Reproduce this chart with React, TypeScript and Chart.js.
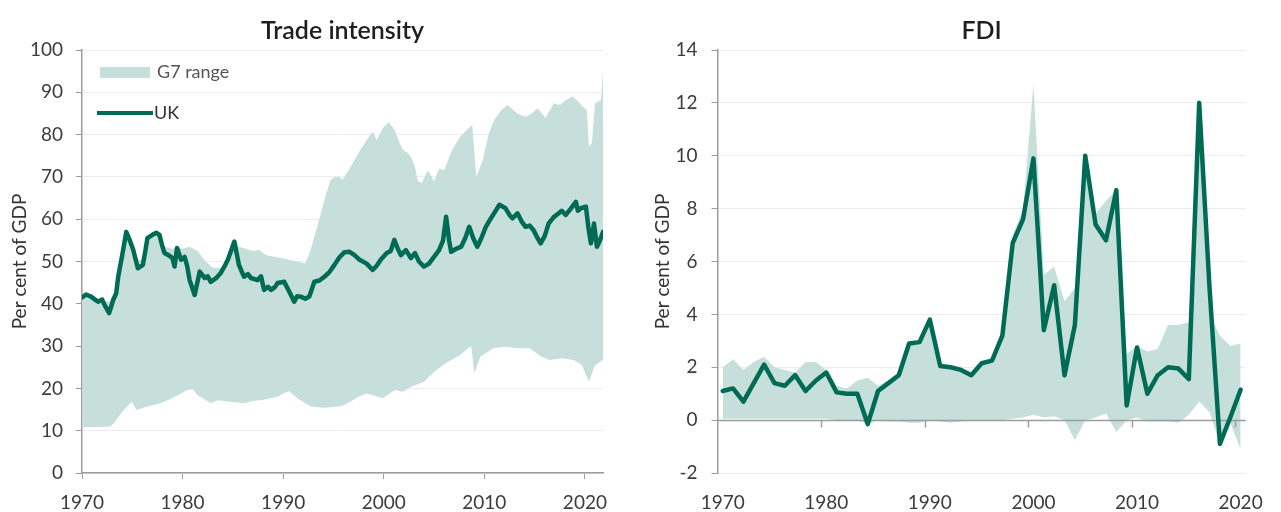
import React, { useEffect, useRef } from "react";
import { Chart, registerables } from "chart.js";

Chart.register(...registerables);

// ---------- Trade intensity (left panel) ----------
const tradeXTicks = [1970, 1980, 1990, 2000, 2010, 2020];
const tradeYTicks = [0, 10, 20, 30, 40, 50, 60, 70, 80, 90, 100];
const tradeLegendLabels = ["G7 range", "UK"];

const ukTradeYears = [
  1970.0, 1970.4, 1970.9, 1971.3, 1971.6, 1972.0, 1972.25, 1972.7, 1973.1, 1973.4,
  1973.6, 1974.0, 1974.4, 1974.75, 1975.1, 1975.55, 1976.05, 1976.3, 1976.5, 1977.0,
  1977.4, 1977.7, 1978.0, 1978.2, 1978.6, 1979.0, 1979.2, 1979.45, 1979.85, 1980.2,
  1980.45, 1980.7, 1981.2, 1981.7, 1982.2, 1982.5, 1982.8, 1983.3, 1983.8, 1984.2,
  1984.5, 1985.15, 1985.6, 1986.1, 1986.5, 1986.8, 1987.45, 1987.8, 1988.1, 1988.5,
  1988.8, 1989.2, 1989.45, 1990.1, 1990.6, 1991.1, 1991.4, 1991.75, 1992.2, 1992.6,
  1993.1, 1993.6, 1994.1, 1994.6, 1995.1, 1995.6, 1996.1, 1996.6, 1997.1, 1997.6,
  1998.3, 1998.9, 1999.3, 1999.7, 2000.3, 2000.7, 2001.05, 2001.4, 2001.7, 2002.2,
  2002.7, 2003.1, 2003.5, 2004.0, 2004.5, 2005.0, 2005.5, 2005.9, 2006.2, 2006.5,
  2006.7, 2007.2, 2007.7, 2008.1, 2008.5, 2008.9, 2009.3, 2009.7, 2010.15, 2010.6,
  2011.0, 2011.5, 2012.1, 2012.5, 2012.8, 2013.3, 2013.7, 2014.1, 2014.5, 2014.9,
  2015.3, 2015.6, 2016.0, 2016.4, 2016.9, 2017.4, 2017.7, 2018.1, 2018.6, 2019.1,
  2019.3, 2019.6, 2020.1, 2020.35, 2020.6, 2020.75, 2020.9, 2021.2, 2021.5, 2021.8,
];
const ukTradeValues = [
  41.5, 42.2, 41.7, 41.0, 40.5, 41.0, 39.7, 37.8, 40.9, 42.5,
  46.4, 51.5, 57.0, 55.0, 52.7, 48.4, 49.2, 52.5, 55.5, 56.3,
  56.8, 56.3, 53.5, 52.0, 51.5, 50.8, 48.8, 53.2, 50.4, 51.1,
  49.0, 45.6, 42.1, 47.6, 46.1, 46.5, 45.2, 46.0, 47.3, 49.0,
  50.4, 54.7, 49.2, 46.4, 47.0, 46.1, 45.6, 46.5, 43.3, 44.0,
  43.3, 44.0, 44.9, 45.2, 42.9, 40.5, 41.8, 41.7, 41.2, 41.7,
  45.2, 45.5, 46.4, 47.5, 49.2, 51.0, 52.2, 52.3, 51.5, 50.4,
  49.5, 48.0, 49.0, 50.4, 52.0, 52.5, 55.1, 53.0, 51.5, 52.7,
  50.8, 52.0, 50.0, 48.8, 49.5, 51.1, 52.7, 55.0, 60.6, 55.0,
  52.3, 53.0, 53.5, 55.5, 58.2, 55.5, 53.5, 55.5, 58.2, 60.0,
  61.5, 63.4, 62.6, 61.0, 60.2, 61.4, 59.5, 58.2, 58.5, 57.4,
  55.5, 54.3, 56.0, 59.0, 60.5, 61.4, 62.0, 61.0, 62.5, 64.1,
  62.0, 62.6, 63.0, 58.0, 54.3, 56.0, 59.0, 53.5, 55.0, 57.0,
];

const g7TradeUpperYears = [
  1970.0, 1970.9, 1971.6, 1972.7, 1973.2, 1973.6, 1974.4, 1975.1, 1975.6, 1976.0,
  1976.5, 1977.0, 1977.7, 1978.2, 1979.0, 1979.45, 1980.0, 1980.7, 1981.5, 1982.3,
  1983.0, 1983.8, 1984.5, 1985.15, 1985.6, 1986.3, 1987.0, 1987.6, 1988.3, 1989.0,
  1989.8, 1990.5, 1991.3, 1992.2, 1992.7, 1993.2, 1993.7, 1994.2, 1994.7, 1995.1,
  1995.6, 1995.9, 1996.5, 1997.1, 1997.7, 1998.3, 1998.9, 1999.3, 1999.9, 2000.5,
  2001.1, 2001.5, 2001.9, 2002.3, 2002.7, 2003.1, 2003.4, 2003.8, 2004.4, 2005.0,
  2005.5, 2006.0, 2006.8, 2007.6, 2008.4, 2008.8, 2009.2, 2009.85, 2010.45, 2011.0,
  2011.7, 2012.3, 2012.8, 2013.3, 2014.1, 2014.7, 2015.3, 2016.1, 2016.9, 2017.5,
  2018.1, 2018.75, 2019.35, 2019.8, 2020.2, 2020.4, 2020.7, 2021.0, 2021.6, 2021.8,
];
const g7TradeUpper = [
  42.0, 42.2, 41.0, 40.5, 41.5, 46.5, 57.5, 53.0, 50.5, 50.5,
  55.8, 56.6, 56.6, 53.5, 53.0, 53.5, 53.0, 53.5, 52.5, 50.0,
  48.5, 48.5, 50.8, 55.0, 53.5, 53.0, 52.5, 52.8, 51.5, 51.2,
  50.8, 50.5, 50.0, 49.6, 52.5, 56.7, 61.0, 65.3, 69.3, 70.0,
  70.0, 69.3, 71.5, 74.0, 76.5, 78.7, 80.7, 78.7, 81.5, 83.0,
  81.1, 78.5, 76.4, 75.8, 74.8, 72.4, 68.9, 68.6, 71.6, 68.9,
  72.0, 71.6, 76.4, 79.5, 81.5, 82.3, 70.0, 74.0, 80.3, 83.5,
  85.8, 87.0, 86.0, 85.0, 84.2, 85.0, 86.2, 83.9, 87.4, 87.0,
  88.2, 89.0, 87.8, 86.5, 85.8, 77.1, 78.0, 87.4, 88.2, 95.0,
];

const g7TradeLowerYears = [
  1970.0, 1971.0, 1972.0, 1972.8, 1973.2, 1973.9, 1974.6, 1975.0, 1975.4, 1976.5,
  1977.8, 1978.8, 1979.5, 1980.5, 1981.0, 1981.5, 1982.8, 1983.5, 1984.5, 1986.1,
  1987.0, 1988.1, 1989.45, 1990.1, 1990.6, 1991.4, 1992.75, 1994.1, 1995.5, 1996.1,
  1997.5, 1998.3, 1999.9, 2001.1, 2001.9, 2002.7, 2004.0, 2005.2, 2006.4, 2007.6,
  2008.4, 2008.7, 2009.0, 2009.6, 2010.9, 2012.1, 2013.3, 2014.5, 2015.7, 2016.5,
  2017.7, 2018.9, 2019.7, 2020.4, 2021.0, 2021.8,
];
const g7TradeLower = [
  10.9, 10.9, 10.9, 11.0, 11.8, 14.2, 16.1, 16.8, 14.9, 15.7,
  16.5, 17.5, 18.4, 19.6, 19.8, 18.4, 16.5, 17.2, 16.9, 16.5,
  17.0, 17.3, 18.0, 18.9, 19.3, 17.7, 15.7, 15.4, 15.7, 16.1,
  18.0, 18.8, 17.7, 19.6, 19.2, 20.4, 21.6, 24.3, 26.3, 27.9,
  29.5, 30.0, 23.6, 27.5, 29.5, 29.9, 29.5, 29.5, 27.5, 26.7,
  27.1, 26.7, 25.5, 21.6, 25.5, 26.7,
];

// ---------- FDI (right panel) ----------
const fdiYears = [
  1970, 1971, 1972, 1973, 1974, 1975, 1976, 1977, 1978, 1979,
  1980, 1981, 1982, 1983, 1984, 1985, 1986, 1987, 1988, 1989,
  1990, 1991, 1992, 1993, 1994, 1995, 1996, 1997, 1998, 1999,
  2000, 2001, 2002, 2003, 2004, 2005, 2006, 2007, 2008, 2009,
  2010, 2011, 2012, 2013, 2014, 2015, 2016, 2017, 2018, 2019,
  2020,
];
const fdiYTicks = [-2, 0, 2, 4, 6, 8, 10, 12, 14];
const ukFdi = [
  1.1, 1.2, 0.7, 1.4, 2.1, 1.4, 1.3, 1.7, 1.1, 1.5,
  1.8, 1.05, 1.0, 1.0, -0.15, 1.1, 1.4, 1.7, 2.9, 2.95,
  3.8, 2.05, 2.0, 1.9, 1.7, 2.15, 2.25, 3.2, 6.7, 7.6,
  9.9, 3.4, 5.1, 1.7, 3.6, 10.0, 7.4, 6.8, 8.7, 0.55,
  2.75, 1.0, 1.7, 2.0, 1.95, 1.55, 12.0, 5.0, -0.9, 0.1,
  1.15,
];
const g7FdiUpper = [
  2.0, 2.3, 1.9, 2.2, 2.4, 2.0, 1.9, 1.8, 2.2, 2.2,
  1.9, 1.3, 1.2, 1.5, 1.6, 1.3, 1.5, 1.8, 2.9, 3.0,
  3.8, 2.1, 2.0, 2.0, 1.8, 2.2, 2.3, 3.3, 7.0, 8.0,
  12.7, 5.5, 5.8, 4.5, 5.0, 10.0, 7.8, 8.3, 8.7, 2.5,
  2.8, 2.6, 2.7, 3.6, 3.6, 3.7, 12.0, 4.0, 3.2, 2.8,
  2.9,
];
const g7FdiLower = [
  0.05, 0.05, 0.05, 0.05, 0.05, 0.05, 0.05, 0.05, 0.05, 0.05,
  0.05, 0.0, 0.0, 0.0, -0.15, 0.0, -0.05, -0.05, -0.1, -0.1,
  0.0, -0.05, -0.1, -0.05, 0.0, 0.0, 0.0, 0.0, 0.05, 0.1,
  0.2, 0.1, 0.15, 0.0, -0.75, 0.0, 0.1, 0.25, -0.45, 0.0,
  0.1, -0.05, -0.05, -0.05, -0.1, 0.2, 0.7, 0.3, -0.9, -0.1,
  -1.1,
];

// ---------- style ----------
const LINE = "#006b55";
const BAND = "#c7dfdb";
const GRID = "#ececec";
const AXIS = "#9c9c9c";
const TEXT = "#3c3c3c";
const FONT = "Lato, 'DejaVu Sans', sans-serif";

Chart.defaults.font.family = FONT;

function fixedTicks(values: number[]) {
  return (scale: any) => {
    scale.ticks = values.map((v) => ({ value: v }));
  };
}

// Legend drawn inside the plot area, top-left
const tradeLegendPlugin = {
  id: "tradeLegend",
  afterDatasetsDraw(chart: any) {
    const { ctx, chartArea } = chart;
    const L = chartArea.left;
    const T = chartArea.top;
    ctx.save();
    ctx.fillStyle = BAND;
    ctx.fillRect(L + 18, T + 17, 50, 11);
    ctx.strokeStyle = LINE;
    ctx.lineWidth = 4;
    ctx.lineCap = "butt";
    ctx.beginPath();
    ctx.moveTo(L + 15, T + 63);
    ctx.lineTo(L + 71, T + 63);
    ctx.stroke();
    ctx.font = `18px ${FONT}`;
    ctx.textBaseline = "middle";
    ctx.textAlign = "left";
    ctx.fillStyle = "#555";
    ctx.fillText(tradeLegendLabels[0], L + 75, T + 22);
    ctx.fillStyle = "#333";
    ctx.fillText(tradeLegendLabels[1], L + 72, T + 63);
    ctx.restore();
  },
};

const zeroLinePlugin = {
  id: "zeroLine",
  afterDatasetDraw(chart: any, args: any) {
    if (args.index !== 1) return;
    const { ctx, chartArea, scales } = chart;
    const x = scales.x;
    const y = scales.y;
    const y0 = Math.round(y.getPixelForValue(0)) + 0.5;
    ctx.save();
    ctx.strokeStyle = AXIS;
    ctx.lineWidth = 1.5;
    ctx.beginPath();
    ctx.moveTo(chartArea.left, y0);
    ctx.lineTo(chartArea.right, y0);
    const half = (x.getPixelForValue(1) - x.getPixelForValue(0)) / 2;
    fdiYears.forEach((yr, i) => {
      if (i > 0 && yr % 10 === 0) {
        const px = Math.round(x.getPixelForValue(i) - half) + 0.5;
        ctx.moveTo(px, y0);
        ctx.lineTo(px, y0 + 7);
      }
    });
    ctx.stroke();
    ctx.restore();
  },
};

function makeTradeChart(canvas: HTMLCanvasElement) {
  return new Chart(canvas, {
    type: "line",
    data: {
      datasets: [
        {
          label: "UK",
          data: ukTradeYears.map((x, i) => ({ x, y: ukTradeValues[i] })),
          borderColor: LINE,
          borderWidth: 4.5,
          pointRadius: 0,
          fill: false,
          tension: 0,
          borderJoinStyle: "round",
          borderCapStyle: "round",
        },
        {
          label: "G7 range",
          data: g7TradeUpperYears.map((x, i) => ({ x, y: g7TradeUpper[i] })),
          borderWidth: 0,
          borderColor: BAND,
          backgroundColor: BAND,
          pointRadius: 0,
          fill: "+1",
          tension: 0,
        },
        {
          label: "G7 lower",
          data: g7TradeLowerYears.map((x, i) => ({ x, y: g7TradeLower[i] })),
          borderWidth: 0,
          borderColor: BAND,
          backgroundColor: BAND,
          pointRadius: 0,
          fill: false,
          tension: 0,
        },
      ],
    },
    options: {
      animation: false,
      responsive: false,
      events: [],
      layout: { padding: { left: 0, right: 37, top: 0, bottom: 0 } },
      plugins: {
        title: {
          display: true,
          text: "Trade intensity",
          fullSize: false,
          color: "#1e1e1e",
          font: { size: 25, weight: "600", lineHeight: 1 },
          padding: { top: 18, bottom: 7 },
        },
        legend: { display: false },
        tooltip: { enabled: false },
      },
      scales: {
        x: {
          type: "linear",
          min: 1970,
          max: 2021.8,
          afterBuildTicks: fixedTicks(tradeXTicks),
          afterFit: (s: any) => {
            s.height = 39;
          },
          ticks: {
            autoSkip: false,
            maxRotation: 0,
            padding: 12,
            color: TEXT,
            font: { size: 19 },
            callback: (v: any) => String(v),
          },
          grid: {
            drawOnChartArea: false,
            drawTicks: true,
            tickLength: 6,
            tickColor: AXIS,
          },
          border: { display: true, color: AXIS, width: 1.5 },
        },
        y: {
          type: "linear",
          min: 0,
          max: 100,
          afterBuildTicks: fixedTicks(tradeYTicks),
          afterFit: (s: any) => {
            s.width = 82;
          },
          ticks: {
            padding: 13,
            color: TEXT,
            font: { size: 19 },
            callback: (v: any) => String(v),
          },
          grid: { color: GRID, tickColor: AXIS, tickLength: 6 },
          border: { display: true, color: AXIS, width: 1.5 },
          title: {
            display: true,
            text: "Per cent of GDP",
            color: "#333",
            font: { size: 19 },
            padding: { top: 8, bottom: 0 },
          },
        },
      },
    },
    plugins: [tradeLegendPlugin],
  } as any);
}

function makeFdiChart(canvas: HTMLCanvasElement) {
  return new Chart(canvas, {
    type: "line",
    data: {
      labels: fdiYears.map(String),
      datasets: [
        {
          label: "UK",
          data: ukFdi,
          borderColor: LINE,
          borderWidth: 4.5,
          pointRadius: 0,
          fill: false,
          tension: 0,
          borderJoinStyle: "round",
          borderCapStyle: "round",
        },
        {
          label: "G7 range",
          data: g7FdiUpper,
          borderWidth: 0,
          borderColor: BAND,
          backgroundColor: BAND,
          pointRadius: 0,
          fill: "+1",
          tension: 0,
        },
        {
          label: "G7 lower",
          data: g7FdiLower,
          borderWidth: 0,
          borderColor: BAND,
          backgroundColor: BAND,
          pointRadius: 0,
          fill: false,
          tension: 0,
        },
      ],
    },
    options: {
      animation: false,
      responsive: false,
      events: [],
      layout: { padding: { left: 0, right: 30, top: 0, bottom: 0 } },
      plugins: {
        title: {
          display: true,
          text: "FDI",
          fullSize: false,
          color: "#1e1e1e",
          font: { size: 25, weight: "600", lineHeight: 1 },
          padding: { top: 18, bottom: 7 },
        },
        legend: { display: false },
        tooltip: { enabled: false },
      },
      scales: {
        x: {
          type: "category",
          offset: true,
          afterFit: (s: any) => {
            s.height = 39;
          },
          ticks: {
            autoSkip: false,
            maxRotation: 0,
            padding: 18,
            color: TEXT,
            font: { size: 19 },
            callback: (_v: any, i: number) =>
              fdiYears[i] % 10 === 0 ? String(fdiYears[i]) : "",
          },
          grid: { display: false, drawTicks: false },
          border: { display: false },
        },
        y: {
          type: "linear",
          min: -2,
          max: 14,
          afterBuildTicks: fixedTicks(fdiYTicks),
          afterFit: (s: any) => {
            s.width = 77.5;
          },
          ticks: {
            padding: 14,
            color: TEXT,
            font: { size: 19 },
            callback: (v: any) => String(v),
          },
          grid: {
            color: (c: any) => (c.tick && c.tick.value === 0 ? "rgba(0,0,0,0)" : GRID),
            tickColor: AXIS,
            tickLength: 6,
          },
          border: { display: true, color: AXIS, width: 1.5 },
          title: {
            display: true,
            text: "Per cent of GDP",
            color: "#333",
            font: { size: 19 },
            padding: { top: 11, bottom: 0 },
          },
        },
      },
    },
    plugins: [zeroLinePlugin],
  } as any);
}

export default function App() {
  const leftRef = useRef<HTMLCanvasElement | null>(null);
  const rightRef = useRef<HTMLCanvasElement | null>(null);

  useEffect(() => {
    const a = leftRef.current ? makeTradeChart(leftRef.current) : null;
    const b = rightRef.current ? makeFdiChart(rightRef.current) : null;
    return () => {
      if (a) a.destroy();
      if (b) b.destroy();
    };
  }, []);

  return (
    <div
      style={{
        position: "absolute",
        left: 0,
        top: 0,
        width: 1281,
        height: 512,
        background: "#fff",
        display: "flex",
      }}
    >
      <canvas ref={leftRef} width={640} height={512} style={{ display: "block", width: 640, height: 512 }} />
      <canvas ref={rightRef} width={641} height={512} style={{ display: "block", width: 641, height: 512 }} />
    </div>
  );
}
